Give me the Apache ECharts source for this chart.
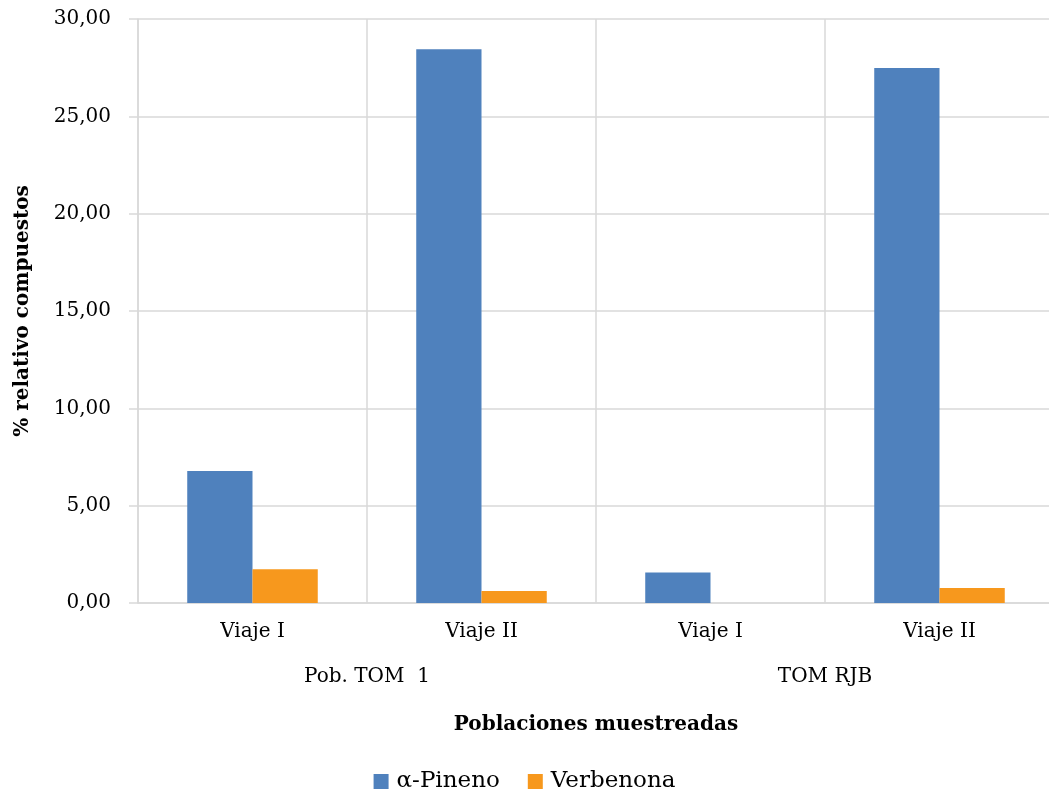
<!DOCTYPE html>
<html>
<head>
<meta charset="utf-8">
<script src="https://cdn.jsdelivr.net/npm/echarts@6/dist/echarts.min.js"></script>
<style>
    html, body { margin: 0; padding: 0; background: #fff; }
    #chart { width: 1049px; height: 798px; }
</style>
</head>
<body>
<div id="chart"></div>
<script>
    // datos del grafico
    var categorias = ['Viaje I', 'Viaje II', 'Viaje I', 'Viaje II'];
    var poblaciones = ['Pob. TOM  1', 'TOM RJB'];
    var legendData = ['α-Pineno', 'Verbenona'];
    var pineno = [6.78, 28.45, 1.57, 27.48];
    var verbenona = [1.74, 0.62, 0, 0.77];
    var colorList = ['#4f81bd', '#f7981d'];

    var fuente = 'DejaVu Serif';
    var gris = '#d9d9d9';

    var myChart = echarts.init(document.getElementById('chart'));
    var option = {
        animation: false,
        color: colorList,
        textStyle: { fontFamily: fuente, color: '#000' },
        legend: {
            data: legendData,
            bottom: 0,
            left: 'center',
            icon: 'rect',
            itemWidth: 15,
            itemHeight: 15,
            itemGap: 28,
            textStyle: { fontFamily: fuente, fontSize: 23, color: '#000', padding: [0, 0, 0, 3] }
        },
        grid: {
            left: 138,
            top: 19,
            width: 916,
            height: 584,
            outerBoundsMode: 'none', // que no encoja el grid (v6)
            containLabel: false
        },
        xAxis: [
            {
                type: 'category',
                data: categorias,
                name: 'Poblaciones muestreadas',
                nameLocation: 'middle',
                nameGap: 112,
                nameTextStyle: { fontFamily: fuente, fontSize: 20, fontWeight: 'bold', color: '#000' },
                axisLine: { lineStyle: { color: gris, width: 1.5 } },
                axisTick: { interval: 0, length: 49, lineStyle: { color: gris, width: 1.5 } },
                splitLine: { show: true, interval: 0, lineStyle: { color: gris, width: 1.5 } },
                axisLabel: { interval: 0, margin: 19, fontFamily: fuente, fontSize: 20, color: '#000' }
            },
            {
                // segundo nivel: poblaciones
                type: 'category',
                data: poblaciones,
                position: 'bottom',
                offset: 0,
                axisLine: { show: false },
                axisTick: { interval: 0, length: 97, lineStyle: { color: gris, width: 1.5 } },
                axisLabel: { interval: 0, margin: 64, fontFamily: fuente, fontSize: 20, color: '#000' }
            }
        ],
        yAxis: {
            type: 'value',
            min: 0,
            max: 30,
            interval: 5,
            name: '% relativo compuestos',
            nameLocation: 'middle',
            nameGap: 105,
            nameTextStyle: { fontFamily: fuente, fontSize: 20, fontWeight: 'bold', color: '#000' },
            axisLine: { show: true, lineStyle: { color: gris, width: 1.5 } },
            axisTick: { show: true, length: 9, lineStyle: { color: gris, width: 1.5 } },
            splitLine: { lineStyle: { color: gris, width: 1.5 } },
            axisLabel: {
                margin: 27,
                fontFamily: fuente,
                fontSize: 20,
                color: '#000',
                formatter: function (v) { return v.toFixed(2).replace('.', ','); }
            }
        },
        series: []
    };
    var datos = [pineno, verbenona];
    for (var i = 0; i < datos.length; i++) {
        option.series.push({
            name: legendData[i],
            type: 'bar',
            data: datos[i],
            barGap: '0%',
            barCategoryGap: '43%'
        });
    }
    myChart.setOption(option);
</script>
</body>
</html>
